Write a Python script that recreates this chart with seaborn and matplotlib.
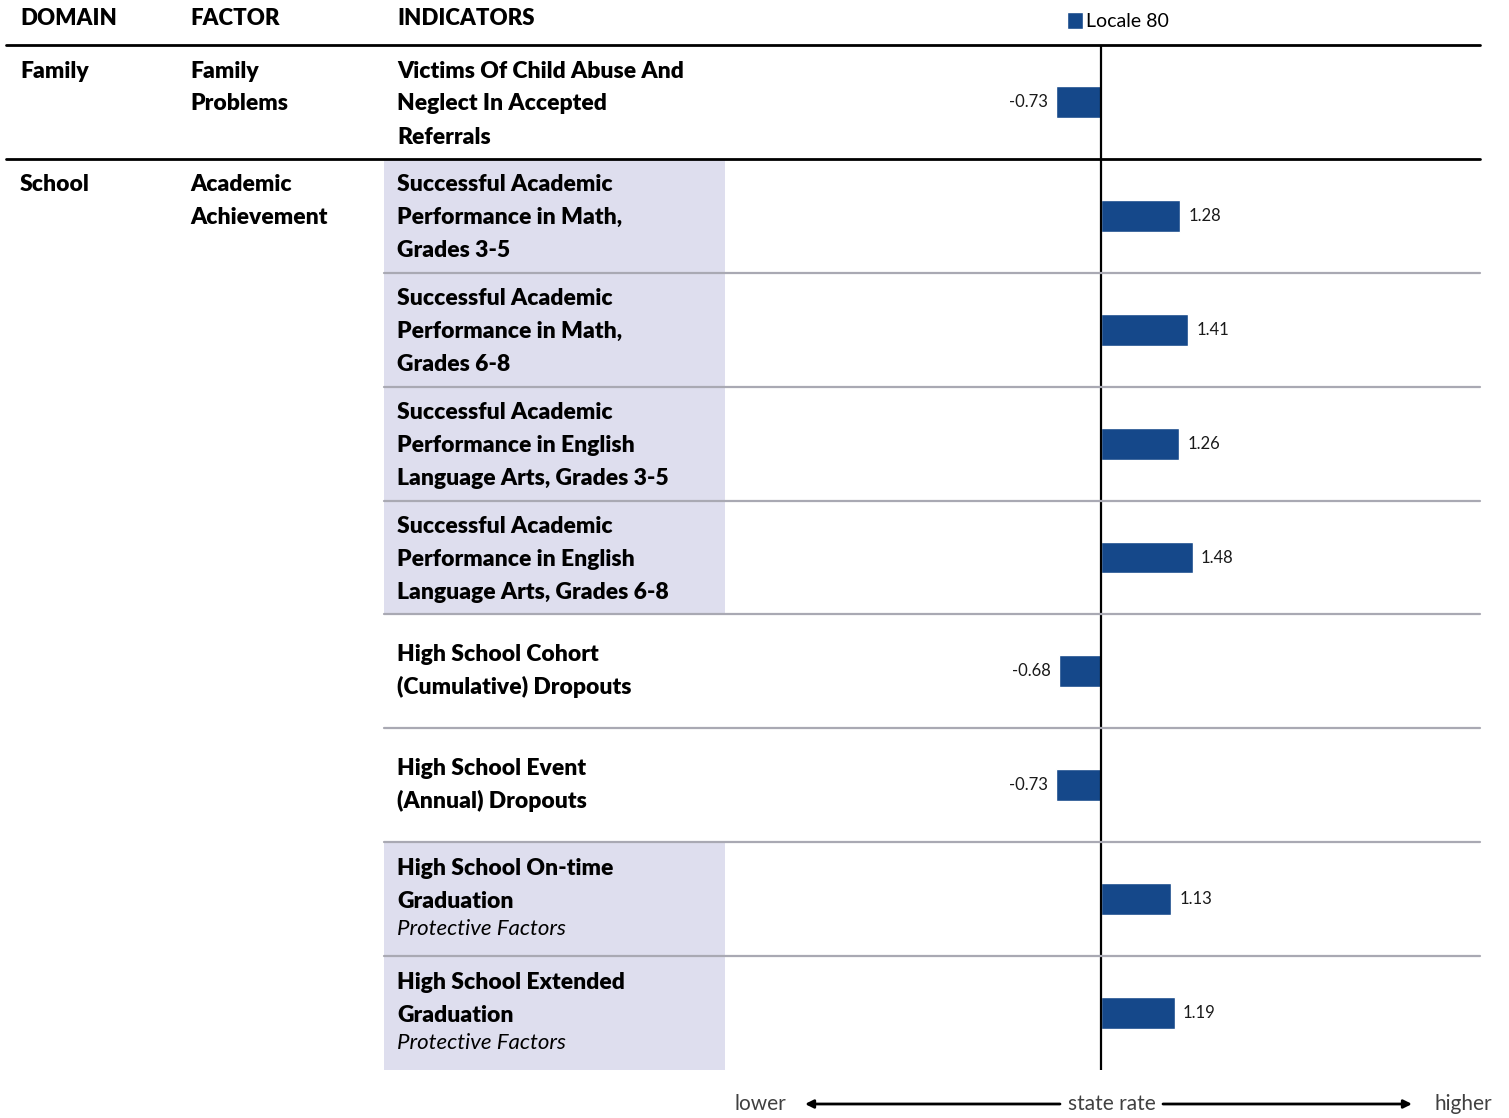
import pandas as pd
import matplotlib.pyplot as plt
import seaborn as sns
from matplotlib.patches import Rectangle
from matplotlib.lines import Line2D

# data
domains = ["Family", "School"]
factors = ["Family\nProblems", "Academic\nAchievement"]
domain_rows = [0, 1]
indicators = [
    "Victims Of Child Abuse And\nNeglect In Accepted\nReferrals",
    "Successful Academic\nPerformance in Math,\nGrades 3-5",
    "Successful Academic\nPerformance in Math,\nGrades 6-8",
    "Successful Academic\nPerformance in English\nLanguage Arts, Grades 3-5",
    "Successful Academic\nPerformance in English\nLanguage Arts, Grades 6-8",
    "High School Cohort\n(Cumulative) Dropouts",
    "High School Event\n(Annual) Dropouts",
    "High School On-time\nGraduation",
    "High School Extended\nGraduation",
]
notes = ["", "", "", "", "", "", "", "Protective Factors", "Protective Factors"]
values = [-0.73, 1.28, 1.41, 1.26, 1.48, -0.68, -0.73, 1.13, 1.19]
series = "Locale 80"
shaded = [False, True, True, True, True, False, False, True, True]

df = pd.DataFrame({"indicator": indicators, "value": values, "series": series})

W, H = 1509, 1118
BAR = "#15488a"
SHADE = "#dedeee"
GRID = "#a9a9b3"

sns.set_theme(style="white")
plt.rcParams["font.family"] = ["Lato", "DejaVu Sans"]
plt.rcParams["text.color"] = "black"

fig = plt.figure(figsize=(W / 100, H / 100), dpi=100)


def fx(x):
    return x / W


def fy(y):
    return 1 - y / H


# table geometry (pixels)
top, bottom = 45, 1070
row_h = (bottom - top) / len(indicators)
ax_left, ax_right, zero_x = 725, 1480, 1101
scale = 62.0

ax = fig.add_axes([fx(ax_left), fy(bottom), fx(ax_right - ax_left), (bottom - top) / H])
sns.barplot(data=df, x="value", y="indicator", hue="series", palette=[BAR],
            orient="h", width=0.28, dodge=False, saturation=1, ax=ax)
ax.set_xlim(-(zero_x - ax_left) / scale, (ax_right - zero_x) / scale)
ax.set_ylim(len(indicators) - 0.5, -0.5)
ax.axvline(0, color="black", lw=1.6, zorder=3)
for i, v in enumerate(values):
    off = 0.13 if v > 0 else -0.13
    ax.text(v + off, i, f"{v:.2f}", ha="left" if v > 0 else "right", va="center",
            fontsize=12, color="#1a1a1a")
for s in ax.spines.values():
    s.set_visible(False)
ax.set_xticks([])
ax.set_yticks([])
ax.set_xlabel("")
ax.set_ylabel("")
ax.patch.set_visible(False)

sns.move_legend(ax, "center left", bbox_to_anchor=(fx(1057), fy(21)),
                bbox_transform=fig.transFigure, frameon=False, title=None,
                fontsize=14, handlelength=0.85, handleheight=1.0,
                handletextpad=0.15, borderpad=0, labelcolor="black")

# shaded indicator cells
for i, sh in enumerate(shaded):
    if sh:
        y0 = top + i * row_h
        fig.patches.append(Rectangle((fx(384), fy(y0 + row_h)), fx(725 - 384), row_h / H,
                                     transform=fig.transFigure, facecolor=SHADE,
                                     edgecolor="none", zorder=0))

# row rules
fig.lines.append(Line2D([fx(6), fx(1480)], [fy(top), fy(top)], color="black", lw=2,
                        transform=fig.transFigure))
fig.lines.append(Line2D([fx(6), fx(1480)], [fy(top + row_h), fy(top + row_h)],
                        color="black", lw=2, transform=fig.transFigure))
for i in range(2, len(indicators)):
    y = top + i * row_h
    fig.lines.append(Line2D([fx(384), fx(1480)], [fy(y), fy(y)], color=GRID, lw=1.6,
                            transform=fig.transFigure))

# headers
for x, t in [(20, "DOMAIN"), (190, "FACTOR"), (397, "INDICATORS")]:
    fig.text(fx(x), fy(18 + 7), t, fontsize=16, fontweight="heavy", va="baseline")

LINE = 33


def put_lines(x, y_first, text):
    for k, line in enumerate(text.split("\n")):
        fig.text(fx(x), fy(y_first + k * LINE + 7.5), line, fontsize=16.5,
                 fontweight="heavy", va="baseline")


for d, f, r in zip(domains, factors, domain_rows):
    put_lines(20, top + r * row_h + 25, d)
    put_lines(190, top + r * row_h + 25, f)

for i, (ind, note) in enumerate(zip(indicators, notes)):
    y0 = top + i * row_h
    n = ind.count("\n") + 1 + (1 if note else 0)
    first = y0 + 25 if n == 3 else y0 + 39
    put_lines(397, first, ind)
    if note:
        fig.text(fx(397), fy(y0 + 86 + 7), note, fontsize=16, fontstyle="italic",
                 va="baseline")

# bottom scale
ty = 1104
for x, t in [(760, "lower"), (1112, "state rate"), (1463, "higher")]:
    fig.text(fx(x), fy(ty), t, fontsize=15, color="#404040", ha="center", va="center")
for x0, x1 in [(1060, 805), (1163, 1412)]:
    ax.annotate("", xy=(fx(x1), fy(ty)), xytext=(fx(x0), fy(ty)),
                xycoords="figure fraction", textcoords="figure fraction",
                arrowprops=dict(arrowstyle="-|>", color="black", lw=2,
                                mutation_scale=12, shrinkA=0, shrinkB=0),
                annotation_clip=False)

fig.savefig("out.png", dpi=100)
